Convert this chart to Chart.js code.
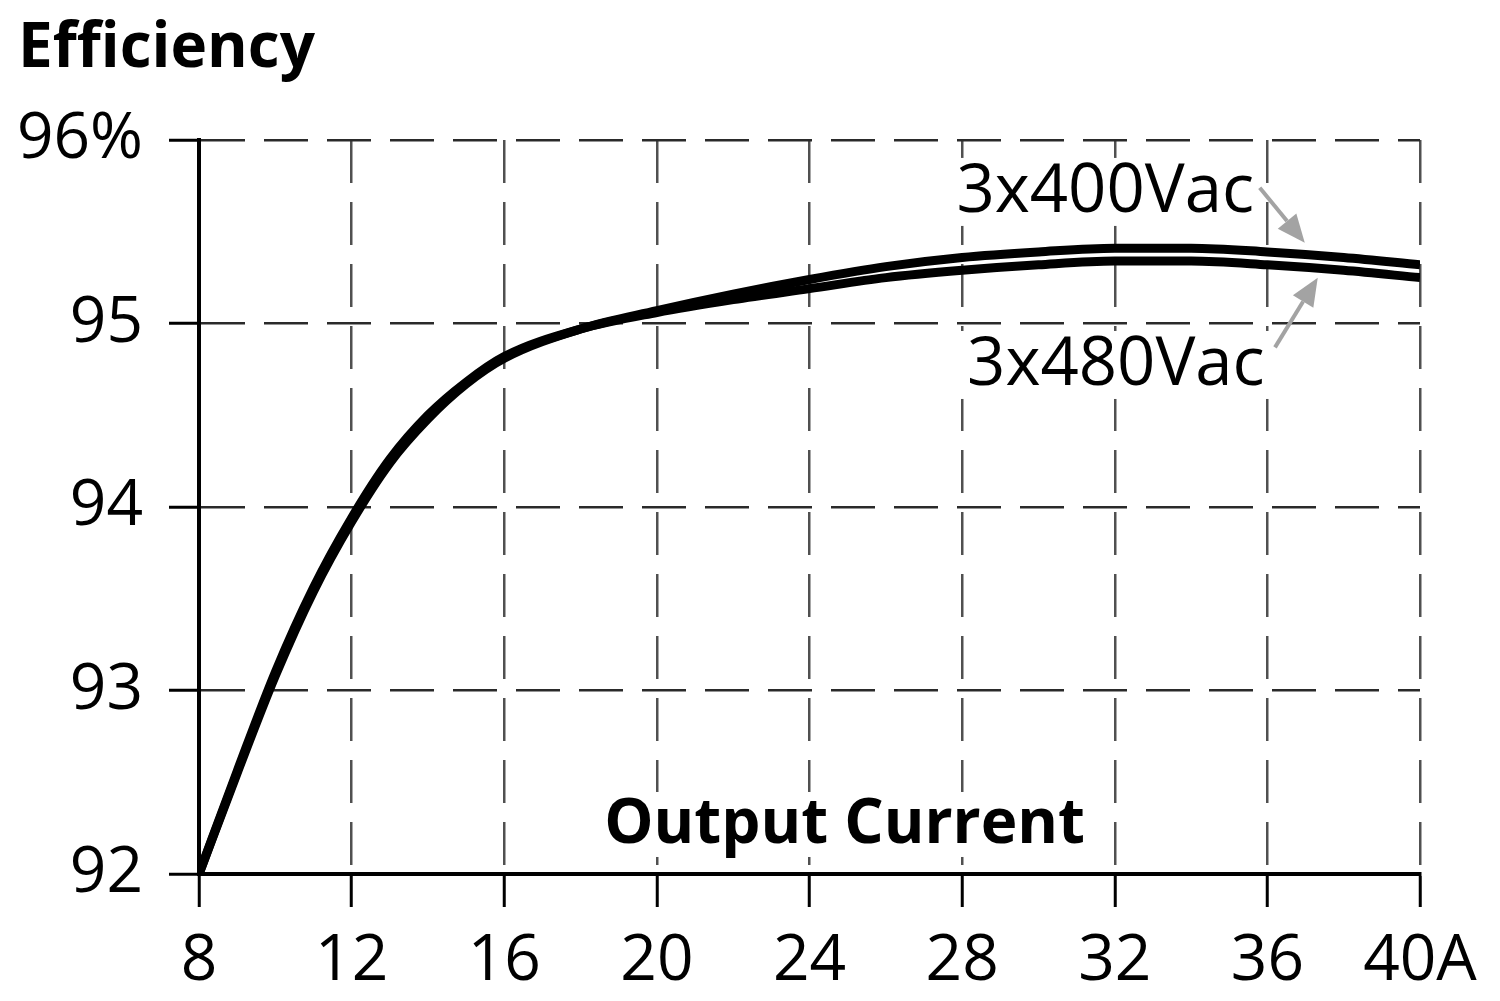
<!DOCTYPE html>
<html><head><meta charset="utf-8">
<script src="https://cdn.jsdelivr.net/npm/chart.js@4.4.0/dist/chart.umd.min.js"></script>
<style>html,body{margin:0;padding:0;background:#fff;}#wrap{width:1500px;height:1001px;}</style>
</head><body><div id="wrap"><canvas id="c" width="1500" height="1001"></canvas></div>
<script>
// ---- data ----
const currents = [8, 9, 10, 11, 12, 13, 14, 15, 16, 18, 20, 22, 24, 26, 28, 30, 32, 34, 36, 38, 40];
const eff400 = [92.0, 92.55, 93.08, 93.54, 93.92, 94.24, 94.48, 94.67, 94.81, 94.97, 95.07, 95.16, 95.24, 95.31, 95.36, 95.39, 95.41, 95.41, 95.39, 95.36, 95.32];
const eff480 = [92.0, 92.56, 93.10, 93.56, 93.94, 94.26, 94.50, 94.68, 94.82, 94.97, 95.06, 95.13, 95.19, 95.25, 95.29, 95.32, 95.34, 95.34, 95.32, 95.29, 95.25];
const seriesNames = ['3x400Vac', '3x480Vac'];
const xTickValues = [8, 12, 16, 20, 24, 28, 32, 36, 40];
const yTickValues = [92, 93, 94, 95, 96];
const chartTitle = 'Efficiency';
const xAxisTitle = 'Output Current';
// annotation anchors in data units
const labelX = [31.75, 32.03];
const labelY = [95.608, 94.665];
const arrowFromX = [35.80, 36.2];
const arrowFromY = [95.74, 94.87];
const arrowToX = [36.98, 37.32];
const arrowToY = [95.44, 95.25];
const xTitleX = 24.92, xTitleY = 92.169;

const FONT = "'Open Sans', 'Noto Sans', sans-serif";

const annot = {
  id: 'annot',
  beforeDatasetsDraw(chart) {
    const ctx = chart.ctx, xs = chart.scales.x, ys = chart.scales.y;
    ctx.save();
    function boxedText(txt, cx, by, font, pad, capH) {
      ctx.font = font;
      const w = ctx.measureText(txt).width;
      ctx.fillStyle = '#fff';
      ctx.fillRect(cx - w / 2 - pad, by - capH - 6, w + 2 * pad, capH + 20);
      ctx.fillStyle = '#000';
      ctx.textAlign = 'center';
      ctx.textBaseline = 'alphabetic';
      ctx.fillText(txt, cx, by);
    }
    boxedText(xAxisTitle, xs.getPixelForValue(xTitleX), ys.getPixelForValue(xTitleY), 'bold 62px ' + FONT, 10, 45);
    for (let i = 0; i < seriesNames.length; i++) {
      boxedText(seriesNames[i], xs.getPixelForValue(labelX[i]), ys.getPixelForValue(labelY[i]), '67px ' + FONT, 10, 48);
    }
    // arrows
    ctx.strokeStyle = '#a3a3a3'; ctx.fillStyle = '#a3a3a3'; ctx.lineWidth = 4;
    for (let i = 0; i < arrowFromX.length; i++) {
      const x1 = xs.getPixelForValue(arrowFromX[i]), y1 = ys.getPixelForValue(arrowFromY[i]);
      const x2 = xs.getPixelForValue(arrowToX[i]), y2 = ys.getPixelForValue(arrowToY[i]);
      const a = Math.atan2(y2 - y1, x2 - x1), L = 28, W = 12;
      const bx = x2 - L * Math.cos(a), by = y2 - L * Math.sin(a);
      ctx.beginPath(); ctx.moveTo(x1, y1); ctx.lineTo(bx, by); ctx.stroke();
      ctx.beginPath();
      ctx.moveTo(x2, y2);
      ctx.lineTo(bx + W * Math.sin(a), by - W * Math.cos(a));
      ctx.lineTo(bx - W * Math.sin(a), by + W * Math.cos(a));
      ctx.closePath(); ctx.fill();
    }
    ctx.restore();
  }
};

new Chart(document.getElementById('c'), {
  type: 'line',
  data: {
    datasets: [
      { label: seriesNames[0], data: currents.map((c, i) => ({ x: c, y: eff400[i] })) },
      { label: seriesNames[1], data: currents.map((c, i) => ({ x: c, y: eff480[i] })) }
    ]
  },
  options: {
    responsive: false,
    animation: false,
    devicePixelRatio: 1,
    layout: { padding: { left: 18, right: 80, top: 0, bottom: 0 } },
    elements: {
      line: { borderColor: '#000', borderWidth: 9, cubicInterpolationMode: 'monotone', fill: false },
      point: { radius: 0 }
    },
    plugins: {
      legend: { display: false },
      tooltip: { enabled: false },
      title: {
        display: true, text: chartTitle, align: 'start', color: '#000',
        font: { family: FONT, size: 62, weight: 'bold', lineHeight: 1.2 },
        padding: { top: 12, bottom: 53.6 }
      }
    },
    scales: {
      x: {
        type: 'linear', min: 8, max: 40,
        afterBuildTicks: s => { s.ticks = xTickValues.map(v => ({ value: v })); },
        afterFit: s => { s.height = 127; },
        grid: { color: '#505050', lineWidth: 2.5, tickLength: 33, tickColor: '#000', tickWidth: 3, tickBorderDash: [] },
        border: { display: true, color: '#000', width: 4, dash: [43, 19] },
        ticks: {
          color: '#000', padding: 16, maxRotation: 0, autoSkip: false,
          font: { family: FONT, size: 64 },
          callback: v => v === 40 ? '40A' : String(v)
        }
      },
      y: {
        min: 92, max: 96,
        afterBuildTicks: s => { s.ticks = yTickValues.map(v => ({ value: v })); },
        afterFit: s => { s.width = 181; },
        grid: { color: '#2a2a2a', lineWidth: 2.5, tickLength: 30, tickColor: '#000', tickWidth: 3, tickBorderDash: [] },
        border: { display: true, color: '#000', width: 4, dash: [44, 19] },
        ticks: {
          color: '#000', padding: 26,
          font: { family: FONT, size: 64 },
          callback: v => v === 96 ? '96%' : String(v)
        }
      }
    }
  },
  plugins: [annot]
});
</script>
</body></html>
